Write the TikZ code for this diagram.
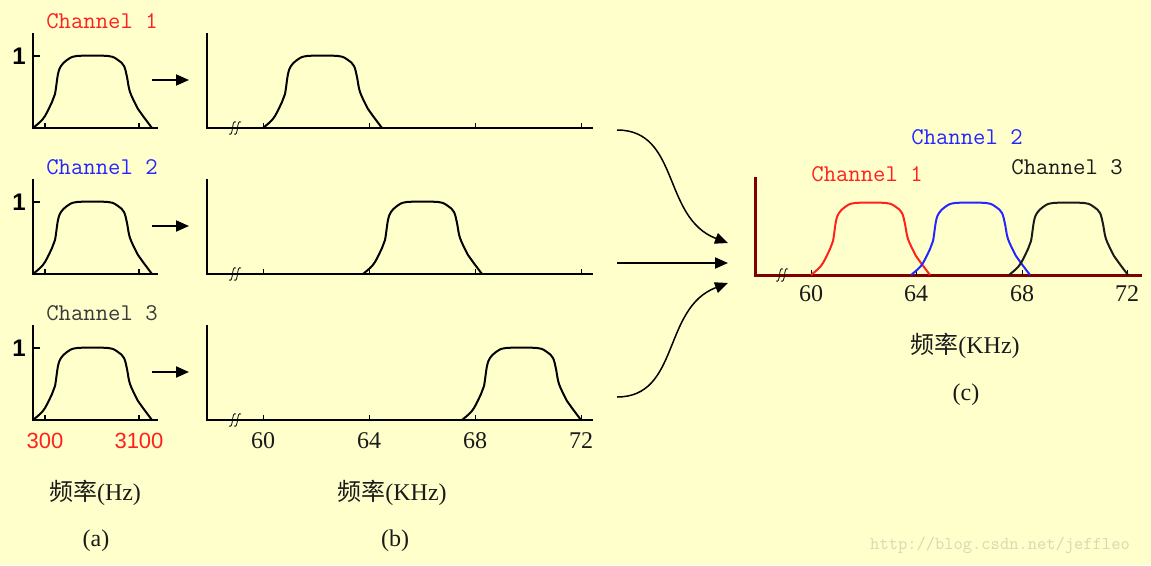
\documentclass[tikz,border=0pt]{standalone}
\usepackage{fontspec}
\setmainfont{Liberation Serif}
\newfontfamily\cjk{Noto Sans CJK SC}
\newfontfamily\arialfont{Liberation Sans}
\usetikzlibrary{arrows.meta}
\definecolor{paper}{HTML}{FFFFCC}
\definecolor{chred}{HTML}{FF2020}
\definecolor{chblue}{HTML}{2525FF}
\definecolor{chgray}{HTML}{3A3A3A}
\definecolor{chdark}{HTML}{1A1A1A}
\definecolor{axred}{HTML}{800000}
\definecolor{wmark}{HTML}{D8D8B4}
\tikzset{
  pics/band/.style={code={\draw[line width=2pt,line join=round]plot[smooth,tension=.55]coordinates{(0,0)(7,-6)(12,-12)(19,-26)(22,-34)(25,-54)(28,-62)(34,-68)(44,-72)(75,-72)(85,-68)(91,-62)(94,-51)(97,-36)(105,-19)(110,-12)(119,0)};}},
  pics/brk/.style={code={\draw[line width=.8pt](-7,6)..controls(-2,9)and(-5,-9)..(0,-6) (-2,6)..controls(3,9)and(0,-9)..(5,-6);}},
  chan/.style={font=\ttfamily\fontsize{24}{24}\selectfont,inner sep=0pt},
  num/.style={font=\fontsize{24}{24}\selectfont,text=chdark,inner sep=0pt},
  rednum/.style={font=\arialfont\fontsize{22}{22}\selectfont,text=chred,inner sep=0pt},
  onelab/.style={font=\arialfont\bfseries\fontsize{24}{24}\selectfont,inner sep=0pt},
  lab/.style={font=\fontsize{24}{24}\selectfont,text=chdark,inner sep=0pt}
}
\begin{document}
\begin{tikzpicture}[x=1pt,y=-1pt,>={Triangle[length=13pt,width=11pt]},line width=1.5pt]
\fill[paper](0,0)rectangle(1151,565);
\useasboundingbox(0,0)rectangle(1151,565);
% (a) and (b)
\foreach \y/\s/\col/\n in {128/263/chred/1,274/363/chblue/2,420/462/chgray/3}{
  \node[chan,text=\col](cha\n)at(102,{\y-107}){Channel \n};
  \node[onelab](one\n)at(19,{\y-72}){1};
  \draw(33,{\y-95})|-(158,\y) (33,{\y-72})--(40,{\y-72}) (45,\y)--++(0,-5) (139,\y)--++(0,-5);
  \pic at(33,\y){band};
  \coordinate(pa\n)at(152,{\y-48});
  \coordinate(pb\n)at(189,{\y-48});
  \draw[->,line width=2pt](pa\n)--(pb\n);
  \draw(207,{\y-95})|-(593,\y);
  \foreach \tk in {263,369,475,581} \draw[line width=1pt](\tk,\y)--++(0,-5);
  \pic at(236,\y){brk};
  \pic at(\s,\y){band};
}
\node[rednum](n300)at(45,441){300};
\node[rednum](n3100)at(139,441){3100};
\foreach \v/\x in {60/263,64/369,68/475,72/581} \node[num](nb\v)at(\x,441){\v};
\node[lab](fa)at(95,493){{\cjk 频率}(Hz)};
\node[lab](fb)at(392,493){{\cjk 频率}(KHz)};
\node[lab](capa)at(96,541){(a)};
\node[lab](capb)at(395,541){(b)};
% arrows to (c)
\coordinate(s1)at(617,130); \coordinate(e1)at(728,243);
\coordinate(s2)at(617,263); \coordinate(e2)at(728,263);
\coordinate(s3)at(617,397); \coordinate(e3)at(728,283);
\draw[->](s1)..controls(680,130)and(662,218)..(e1);
\draw[->,line width=2pt](s2)--(e2);
\draw[->](s3)..controls(680,397)and(662,308)..(e3);
% (c)
\draw[axred,line width=3pt](755,177)|-(1142,275);
\foreach \x in {811,916,1022,1127} \draw[line width=1pt](\x,275)--++(0,-5);
\pic at(783,275){brk};
\pic[chred] at(811,275){band};
\pic[chblue] at(911,275){band};
\pic[chdark] at(1009,275){band};
\node[chan,text=chred](cc1)at(867,174){Channel 1};
\node[chan,text=chblue](cc2)at(967,137){Channel 2};
\node[chan,text=chdark](cc3)at(1067,167){Channel 3};
\foreach \v/\x in {60/811,64/916,68/1022,72/1127} \node[num](nc\v)at(\x,294){\v};
\node[lab](fc)at(965,346){{\cjk 频率}(KHz)};
\node[lab](capc)at(966,395){(c)};
\node[font=\ttfamily\fontsize{18}{18}\selectfont,text=wmark,inner sep=0pt](url)at(1000,545){http://blog.csdn.net/jeffleo};
\end{tikzpicture}
\end{document}
